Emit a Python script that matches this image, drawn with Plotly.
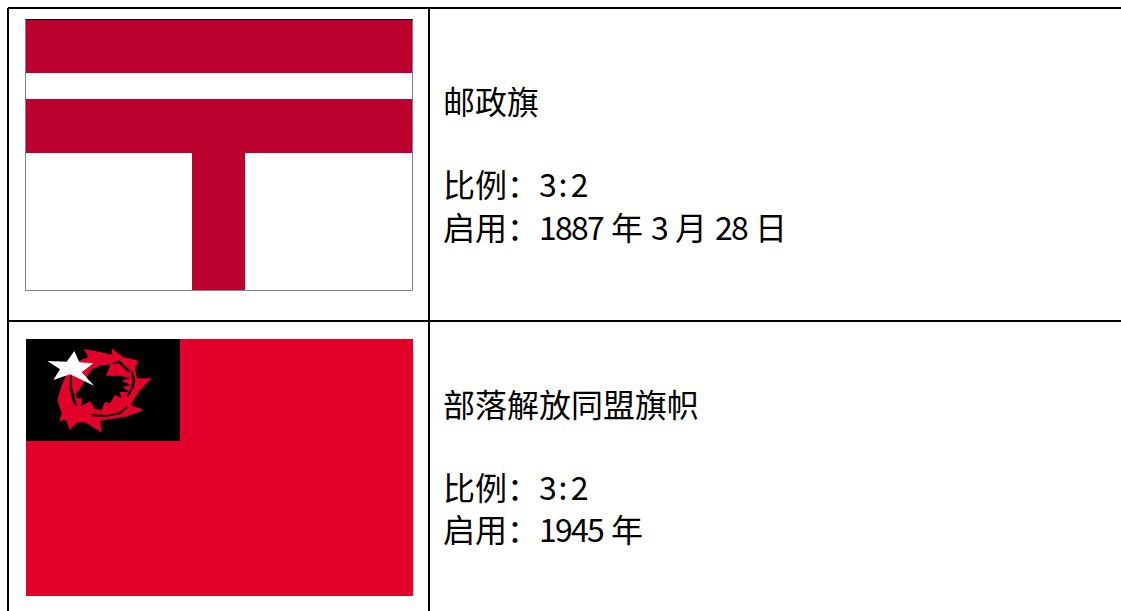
import plotly.graph_objects as go

W, H = 1121, 611
BLACK = "#000000"
POST_RED = "#BC002D"
FLAG_RED = "#E30029"
GREY = "#808080"
CJK = "Noto Sans CJK SC"

# table rules: x0, y0, x1, y1
table_rules = [(8, 8, 1121, 8), (8, 8, 8, 611), (429, 8, 429, 611), (8, 321, 1121, 321)]

# flag rectangles
post_flag = (25.5, 19.5, 412.5, 290.5)
post_bands = [(26, 20, 413, 73), (26, 99, 413, 153), (192, 153, 245, 290)]
tribe_flag = (26, 339, 413, 596)
tribe_canton = (26, 339, 180, 441)

ring = [(125,150),(140,118),(170,80),(205,66),(192,42),(245,52),(275,60),(275,40),
        (308,65),(355,77),(345,103),(352,130),(395,130),(358,168),(332,210),(371,224),(318,245),
        (262,255),(240,257),(245,293),(195,262),(170,263),(150,285),(138,255),(118,258),(125,235),
        (112,195),(125,150)]
core = [(165,178),(172,190),(186,190),(183,213),(200,205),(210,198),(225,222),(245,225),(255,200),
        (270,205),(285,180),(305,188),(298,170),(328,172),(308,155),(332,150),(305,138),(330,128),
        (295,122),(258,122),(272,88),(240,92),(215,103),(192,140),(178,165)]
slit_top = [(272,88),(298,76),(332,108),(325,112),(296,85)]
slit_right = [(338,108),(346,135),(340,160),(325,185),(320,182),(334,158),(338,135),(332,112)]
slit_bottom = [(215,238),(260,240),(300,232),(320,212),(322,220),(300,238),(255,246),(215,244)]
slit_left = [(150,125),(156,120),(154,150),(164,190),(172,215),(160,205),(149,165)]
star = [(163,48),(178,82),(220,85),(185,112),(222,152),(150,118),(100,135),(120,103),(82,78),(140,80)]

# fixed-pitch spacing used by the reference's digits
PITCH = '<span style="letter-spacing:-1.8px">%s</span>'
RATIO = '<span style="letter-spacing:1.7px">3</span><span style="letter-spacing:3.3px">:</span>2'

# text runs: x, centre y, text
text_runs = [
    (444, 100, "邮政旗"),
    (444, 183, "比例："), (540, 183, RATIO),
    (444, 226, "启用："), (540, 226, PITCH % "1887"), (612, 226, "年"),
    (652, 226, "3"), (676, 226, "月"), (716, 226, PITCH % "28"), (756, 226, "日"),
    (444, 403, "部落解放同盟旗帜"),
    (444, 486, "比例："), (540, 486, RATIO),
    (444, 528, "启用："), (540, 528, PITCH % "1945"), (612, 528, "年"),
]

fig = go.Figure()


def poly(points, color):
    xs = [p[0] for p in points] + [points[0][0]]
    ys = [p[1] for p in points] + [points[0][1]]
    fig.add_trace(go.Scatter(x=xs, y=ys, mode="lines", fill="toself", fillcolor=color,
                             line=dict(width=0, color=color), hoverinfo="skip", showlegend=False))


def rect(r, color):
    x0, y0, x1, y1 = r
    poly([(x0, y0), (x1, y0), (x1, y1), (x0, y1)], color)


def crop(points):
    return [(20 + x / 3, 335 + y / 3) for x, y in points]


rect(tribe_flag, FLAG_RED)
rect(tribe_canton, BLACK)
poly(crop(ring), FLAG_RED)
poly(crop(core), BLACK)
poly(crop(slit_top), BLACK)
poly(crop(slit_right), BLACK)
poly(crop(slit_bottom), BLACK)
poly(crop(slit_left), BLACK)
poly(crop(star), "#FFFFFF")
for band in post_bands:
    rect(band, POST_RED)

fig.add_shape(type="rect", x0=post_flag[0], y0=post_flag[1], x1=post_flag[2], y1=post_flag[3],
              line=dict(color=GREY, width=1), fillcolor="rgba(0,0,0,0)", layer="above")
fig.add_shape(type="line", x0=post_flag[0], y0=post_flag[1], x1=post_flag[2], y1=post_flag[1],
              line=dict(color=BLACK, width=1), layer="above")
for x0, y0, x1, y1 in table_rules:
    fig.add_shape(type="line", x0=x0, y0=y0, x1=x1, y1=y1, line=dict(color=BLACK, width=2), layer="above")

for x, y, t in text_runs:
    fig.add_annotation(x=x, y=y, text=t, showarrow=False, xanchor="left", yanchor="middle", xshift=-3,
                       font=dict(family=CJK, size=32, color="#000000"))

fig.update_xaxes(visible=False, range=[0, W], fixedrange=True)
fig.update_yaxes(visible=False, range=[H, 0], fixedrange=True)
fig.update_layout(width=W, height=H, margin=dict(l=0, r=0, t=0, b=0),
                  paper_bgcolor="#FFFFFF", plot_bgcolor="#FFFFFF", showlegend=False)
fig.write_html("out.html", config={"displayModeBar": False}, default_width=W, default_height=H,
               post_script="document.body.style.margin='0';document.documentElement.style.overflow='hidden';")
